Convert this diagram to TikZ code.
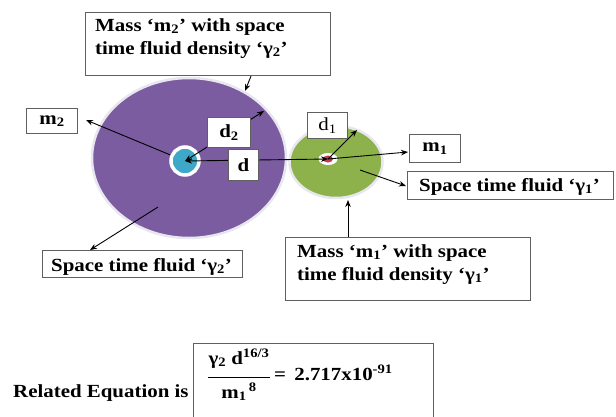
\documentclass[tikz,border=0pt]{standalone}
\usepackage{fontspec}
\setmainfont[FakeStretch=1.13]{Liberation Serif}
\usetikzlibrary{arrows.meta,shapes.geometric}
\definecolor{purp}{RGB}{123,92,160}
\definecolor{grn}{RGB}{142,178,75}
\definecolor{cyn}{RGB}{61,168,200}
\definecolor{reddot}{RGB}{198,58,79}
\definecolor{rim}{RGB}{232,230,238}
\definecolor{boxgray}{RGB}{96,96,96}
\begin{document}
\begin{tikzpicture}[x=1pt,y=-1pt,
  font=\fontsize{18.5}{23}\selectfont\bfseries,
  box/.style={draw=boxgray, line width=1.1pt, fill=white, inner sep=0pt, rectangle},
  lbl/.style={inner sep=0pt, anchor=base west},
  arr/.style={-{Stealth[length=7pt,width=5.5pt]}, line width=0.9pt},
  darr/.style={{Stealth[length=7pt,width=5.5pt]}-{Stealth[length=7pt,width=5.5pt]}, line width=0.9pt}]
\useasboundingbox (0,0) rectangle (616,416);

% fluids
\node[ellipse, fill=purp, draw=rim, line width=2.5pt, minimum width=194pt, minimum height=160pt, inner sep=0pt] (big) at (189,158) {};
\node[ellipse, fill=grn, draw=rim, line width=2.5pt, minimum width=93pt, minimum height=72pt, inner sep=0pt] (small) at (336,162) {};

% free ends
\coordinate (c2) at (185,161);
\coordinate (c1) at (328,159);
\coordinate (d2tip) at (264,111);
\coordinate (d1tip) at (357,130);
\coordinate (m2tip) at (86,120);
\coordinate (g2src) at (158,207);
\coordinate (g2tip) at (90,250);
\coordinate (g1src) at (360,170);
\coordinate (g1tip) at (406,186);
\coordinate (toptip) at (245,91);
\coordinate (m1tip) at (408,152);
\coordinate (uptip) at (348,200);

% line to m2 below the mass
\draw[arr] (c2) -- (m2tip);

% masses
\node[circle, fill=cyn, draw=white, line width=3.5pt, minimum size=28pt, inner sep=0pt] (mass2) at (c2) {};
\node[ellipse, fill=white, minimum width=19pt, minimum height=12pt, inner sep=0pt] (ring1) at (c1) {};
\node[ellipse, fill=reddot, minimum width=10pt, minimum height=7pt, inner sep=0pt] (mass1) at (c1) {};

% distance lines
\draw[darr] (c2) -- (d2tip);
\draw[darr] (c2) -- (c1);
\draw[arr] (c1) -- (m1tip);
\draw[arr] (c1) -- (d1tip);
\draw[arr] (g2src) -- (g2tip);
\draw[arr] (g1src) -- (g1tip);

% boxes
\node[box, anchor=north west, minimum width=245pt, minimum height=63pt] (topbox) at (85,12) {};
\node[lbl] (top1) at (95,31) {Mass `m\textsubscript{2}' with space};
\node[lbl] (top2) at (95,54) {time fluid density `γ\textsubscript{2}'};
\draw[arr] (topbox.south -| 251,0) -- (toptip);

\node[box, anchor=north west, minimum width=51pt, minimum height=25pt] (m2box) at (26,108) {m\textsubscript{2}};
\node[box, anchor=north west, minimum width=43pt, minimum height=30pt] (d2box) at (207,117) {d\textsubscript{2}};
\node[box, anchor=north west, minimum width=30pt, minimum height=31pt] (dbox) at (228,149) {d};
\node[box, anchor=north west, minimum width=40pt, minimum height=26pt, font=\fontsize{18.5}{23}\selectfont\mdseries] (d1box) at (307,112) {d\textsubscript{1}};
\node[box, anchor=north west, minimum width=51pt, minimum height=28pt] (m1box) at (409,134) {m\textsubscript{1}};

\node[box, anchor=north west, minimum width=200pt, minimum height=27pt] (g2box) at (42,250) {};
\node[lbl] (g2text) at (51,271) {Space time fluid `γ\textsubscript{2}'};
\node[box, anchor=north west, minimum width=206pt, minimum height=28pt] (g1box) at (407,171) {};
\node[lbl] (g1text) at (419,191) {Space time fluid `γ\textsubscript{1}'};

\node[box, anchor=north west, minimum width=245pt, minimum height=63pt] (m1big) at (285,237) {};
\node[lbl] (bot1) at (297,257) {Mass `m\textsubscript{1}' with space};
\node[lbl] (bot2) at (297,280) {time fluid density `γ\textsubscript{1}'};
\draw[arr] (m1big.north -| uptip) -- (uptip);

% equation
\node[lbl] (rel) at (13,397) {Related Equation is};
\node[box, anchor=north west, minimum width=240pt, minimum height=74pt] (eqbox) at (193,343) {};
\node[inner sep=0pt, anchor=base] (num) at (239,364) {γ\textsubscript{2} d\textsuperscript{16/3}};
\node[inner sep=0pt, anchor=base] (den) at (239,398) {m\textsubscript{1}\textsuperscript{\,8}};
\draw[line width=0.9pt] (num.south west |- 0,377) coordinate (barL) -- (num.south east |- 0,377) coordinate (barR);
\node[lbl] (rhs) at (274,380) {=\;\,2.717x10\textsuperscript{-91}};
\end{tikzpicture}
\end{document}
